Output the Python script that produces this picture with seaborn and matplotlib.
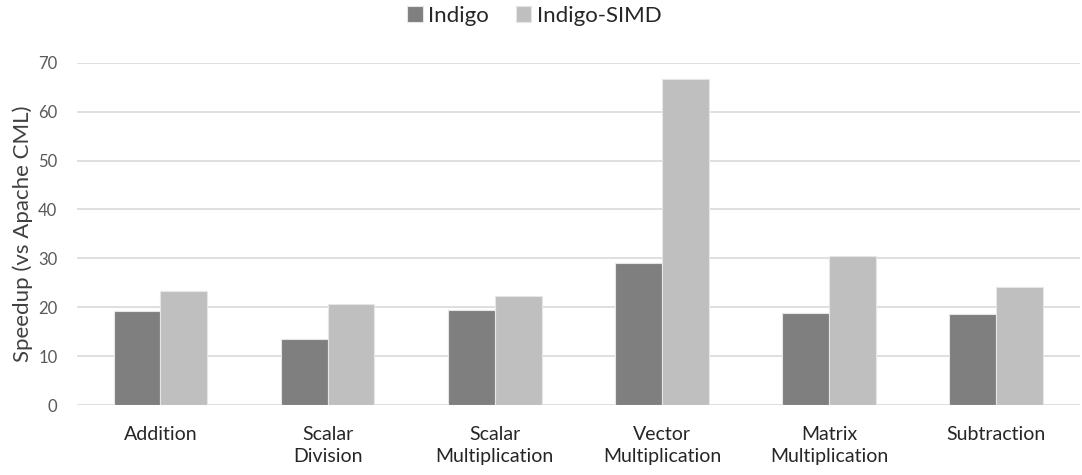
import pandas as pd
import seaborn as sns
import matplotlib.pyplot as plt

# data
categories = ['Addition', 'Scalar\nDivision', 'Scalar\nMultiplication',
              'Vector\nMultiplication', 'Matrix\nMultiplication', 'Subtraction']
indigo = [19.2, 13.6, 19.4, 29.0, 18.9, 18.7]
indigo_simd = [23.4, 20.7, 22.3, 66.7, 30.5, 24.2]
series = ['Indigo', 'Indigo-SIMD']
y_ticks = [0, 10, 20, 30, 40, 50, 60, 70]

df = pd.DataFrame({
    'category': categories * 2,
    'speedup': indigo + indigo_simd,
    'series': [series[0]] * len(categories) + [series[1]] * len(categories),
})

sns.set_style('white')
plt.rcParams['font.family'] = ['Lato', 'DejaVu Sans']

fig = plt.figure(figsize=(10.82, 4.75), dpi=100)
ax = fig.add_axes([0.071, 0.147, 0.927, 0.721])

sns.barplot(data=df, x='category', y='speedup', hue='series',
            palette=['#7f7f7f', '#bfbfbf'], width=0.56, gap=0,
            edgecolor='#e6e6e6', linewidth=0.8, ax=ax, zorder=3)

ax.set_ylim(0, 70)
ax.set_yticks(y_ticks)
ax.set_xlim(-0.5, len(categories) - 0.5)
ax.yaxis.grid(True, color='#d9d9d9', linewidth=1.2, zorder=0)
ax.set_axisbelow(True)
for s in ax.spines.values():
    s.set_visible(False)
ax.tick_params(axis='both', length=0)
ax.tick_params(axis='y', labelsize=12, labelcolor='#595959', pad=14)
ax.tick_params(axis='x', labelsize=14, labelcolor='#262626', pad=15)
for lab in ax.get_xticklabels():
    lab.set_linespacing(1.35)

ax.set_xlabel('')
ax.set_ylabel('Speedup (vs Apache CML)', fontsize=16, color='#404040',
              labelpad=4)

handles, labels = ax.get_legend_handles_labels()
ax.get_legend().remove()
leg = fig.legend(handles, labels, loc='upper center', bbox_to_anchor=(0.494, 1.03),
                 ncol=2, frameon=False, fontsize=16, handlelength=0.7,
                 handleheight=0.7, handletextpad=0.25, columnspacing=1.2)
for t in leg.get_texts():
    t.set_color('#262626')

fig.savefig('out.png', dpi=100)
